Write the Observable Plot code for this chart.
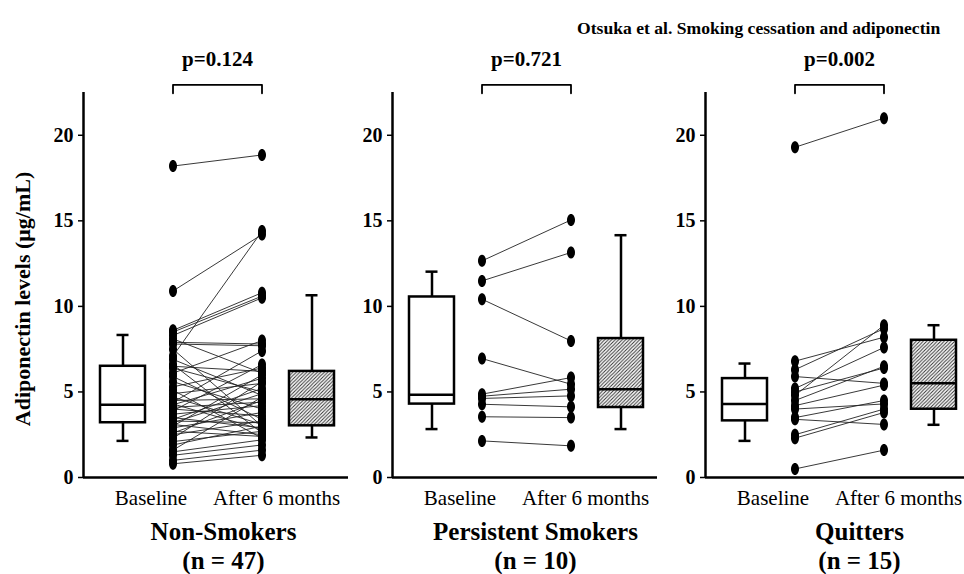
<!DOCTYPE html>
<html><head><meta charset="utf-8">
<script src="https://cdn.jsdelivr.net/npm/d3@7"></script>
<script src="https://cdn.jsdelivr.net/npm/@observablehq/plot@0.6"></script>
<style>
body{margin:0;background:#fff;}
#chart{position:relative;width:964px;height:574px;overflow:hidden;font-family:"Liberation Serif","Times New Roman",serif;background:#fff;}
#chart svg{position:absolute;top:0;}
#title{position:absolute;left:577px;top:19px;font-weight:bold;font-size:17.6px;line-height:18px;white-space:nowrap;color:#000;font-family:"Liberation Serif","Times New Roman",serif;}
</style></head><body>
<div id="chart"><div id="title">Otsuka et al. Smoking cessation and adiponectin</div></div>
<script>
const groups = ["Non-Smokers", "Persistent Smokers", "Quitters"];
const groupN = [47, 10, 15];
const pValues = ["p=0.124", "p=0.721", "p=0.002"];
const timeLabels = ["Baseline", "After 6 months"];
const yTicks = [0, 5, 10, 15, 20];
const yLabel = "Adiponectin levels (μg/mL)";

const nonSmokersBaseline = [18.2,10.9,8.6,8.5,8.3,8.1,7.9,7.8,7.5,7.1,6.9,6.6,6.5,6.4,6.1,5.9,5.6,5.3,5.1,4.9,4.7,4.5,4.4,4.3,4.25,4.1,4.0,3.9,3.7,3.5,3.4,3.3,3.2,3.1,3.0,2.9,2.7,2.6,2.5,2.3,2.1,1.9,1.6,1.5,1.3,1.0,0.8];
const nonSmokersAfter = [18.85,14.2,10.8,10.6,10.5,6.1,7.8,7.7,3.0,14.4,4.8,2.6,6.2,5.0,8.0,3.4,4.0,6.4,2.3,5.5,3.1,4.6,7.4,2.8,5.8,4.4,3.6,6.6,4.2,2.9,5.2,3.2,4.9,2.5,6.0,3.8,2.4,4.5,3.3,5.6,2.7,3.0,4.7,2.2,1.9,1.6,1.3];
const persistentBaseline = [12.66,11.49,10.42,6.95,4.87,4.75,4.62,4.28,3.55,2.14];
const persistentAfter = [15.05,13.15,7.98,5.45,5.84,5.16,4.77,4.13,3.5,1.85];
const quittersBaseline = [19.3,6.8,6.3,5.9,5.2,4.8,4.5,4.2,4.0,3.5,3.4,2.5,2.3,0.5,5.0];
const quittersAfter = [21.0,8.2,8.7,5.5,7.6,8.9,6.5,5.4,4.3,4.5,3.1,4.0,3.8,1.6,6.4];

// box summaries: [lower whisker, q1, median, q3, upper whisker]
const boxBaseline = [[2.14,3.2,4.25,6.5,8.33],[2.83,4.29,4.83,10.55,12.03],[2.14,3.31,4.29,5.78,6.66]];
const boxAfter = [[2.34,3.02,4.58,6.2,10.65],[2.83,4.09,5.16,8.12,14.16],[3.08,3.99,5.51,8.02,8.9]];

const baselines = [nonSmokersBaseline, persistentBaseline, quittersBaseline];
const afters = [nonSmokersAfter, persistentAfter, quittersAfter];

// layout (x in units of 50px from the y axis)
const UNIT = 50, innerW = 265;
const X = {box1: 0.79, base: 1.79, after: 3.57, box2: 4.57};
const halfBox = 0.45, halfCap = 0.12;
const timeLabelX = [1.35, 3.86];
const groupLabelX = [2.8, 2.86, 3.08];
const axisLeft = [83, 392, 705];
const bracketY = 22.95, bracketTick = 22.45;
const serif = "'Liberation Serif','Times New Roman',serif";

const ellipse = {
  draw(ctx, size) {
    const r = Math.sqrt(size / Math.PI), rx = r * 0.8, ry = r * 1.2, k = 0.5523;
    ctx.moveTo(rx, 0);
    ctx.bezierCurveTo(rx, ry * k, rx * k, ry, 0, ry);
    ctx.bezierCurveTo(-rx * k, ry, -rx, ry * k, -rx, 0);
    ctx.bezierCurveTo(-rx, -ry * k, -rx * k, -ry, 0, -ry);
    ctx.bezierCurveTo(rx * k, -ry, rx, -ry * k, rx, 0);
    ctx.closePath();
  }
};

function boxMarks(s, cx, fill) {
  return [
    Plot.ruleX([s], {x: cx, y1: d => d[3], y2: d => d[4], strokeWidth: 2.5}),
    Plot.ruleX([s], {x: cx, y1: d => d[0], y2: d => d[1], strokeWidth: 2.5}),
    Plot.ruleY([s], {y: d => d[4], x1: cx - halfCap, x2: cx + halfCap, strokeWidth: 2.5}),
    Plot.ruleY([s], {y: d => d[0], x1: cx - halfCap, x2: cx + halfCap, strokeWidth: 2.5}),
    Plot.rect([s], {x1: cx - halfBox, x2: cx + halfBox, y1: d => d[1], y2: d => d[3], fill, stroke: "black", strokeWidth: 2.5}),
    Plot.ruleY([s], {y: d => d[2], x1: cx - halfBox, x2: cx + halfBox, strokeWidth: 2.5})
  ];
}

const chart = document.getElementById("chart");
groups.forEach((g, i) => {
  const ml = i === 0 ? 83 : 60;
  const pairs = baselines[i].map((b, j) => ({b, a: afters[i][j]}));
  const hatchId = "hatch" + i;
  const marks = [
    Plot.ruleY([0], {strokeWidth: 2.5}),
    Plot.ruleX([0], {strokeWidth: 2.5}),
    Plot.axisY({ticks: yTicks, tickSize: 5, tickPadding: 5, fontSize: 20, fontWeight: "bold", label: null, strokeWidth: 1.5, tickFormat: d => String(d)}),
    ...boxMarks(boxBaseline[i], X.box1, "white"),
    ...boxMarks(boxAfter[i], X.box2, `url(#${hatchId})`),
    Plot.link(pairs, {x1: X.base, x2: X.after, y1: "b", y2: "a", stroke: "#222", strokeWidth: 0.9}),
    Plot.dot(pairs, {x: X.base, y: "b", symbol: ellipse, r: 5, fill: "black", stroke: null}),
    Plot.dot(pairs, {x: X.after, y: "a", symbol: ellipse, r: 5, fill: "black", stroke: null}),
    Plot.line([[X.base, bracketTick], [X.base, bracketY], [X.after, bracketY], [X.after, bracketTick]], {strokeWidth: 1.8}),
    Plot.text([pValues[i]], {x: (X.base + X.after) / 2, frameAnchor: "top", dy: -33, fontSize: 21, fontWeight: "bold", lineAnchor: "middle"}),
    Plot.text(timeLabels, {x: (d, k) => timeLabelX[k], frameAnchor: "bottom", dy: 21, fontSize: 21, lineAnchor: "middle"}),
    Plot.text([g], {x: groupLabelX[i], frameAnchor: "bottom", dy: 54, fontSize: 25, fontWeight: "bold", lineAnchor: "middle"}),
    Plot.text([`(n = ${groupN[i]})`], {x: groupLabelX[i], frameAnchor: "bottom", dy: 83, fontSize: 25, fontWeight: "bold", lineAnchor: "middle"})
  ];
  if (i === 0) marks.push(Plot.text([yLabel], {frameAnchor: "left", dx: -61, dy: 14, rotate: -90, fontSize: 22, fontWeight: "bold", textAnchor: "middle", lineAnchor: "middle"}));
  const svg = Plot.plot({
    width: ml + innerW, height: 574,
    marginLeft: ml, marginRight: 0, marginTop: 92, marginBottom: 97,
    x: {domain: [0, innerW / UNIT], axis: null},
    y: {domain: [0, 22.5], axis: null},
    style: {fontFamily: serif, background: "transparent", color: "black", overflow: "visible"},
    marks
  });
  svg.style.fontFamily = serif;
  const defs = d3.select(svg).insert("defs", ":first-child");
  const pat = defs.append("pattern").attr("id", hatchId).attr("patternUnits", "userSpaceOnUse").attr("width", 3.5).attr("height", 3.5);
  pat.append("rect").attr("width", 3.5).attr("height", 3.5).attr("fill", "white");
  pat.append("path").attr("d", "M-1,1 l2,-2 M0,3.5 l3.5,-3.5 M2.5,4.5 l2,-2").attr("stroke", "#333").attr("stroke-width", 1);
  svg.style.left = (axisLeft[i] - ml) + "px";
  chart.appendChild(svg);
});
</script>
</body></html>
